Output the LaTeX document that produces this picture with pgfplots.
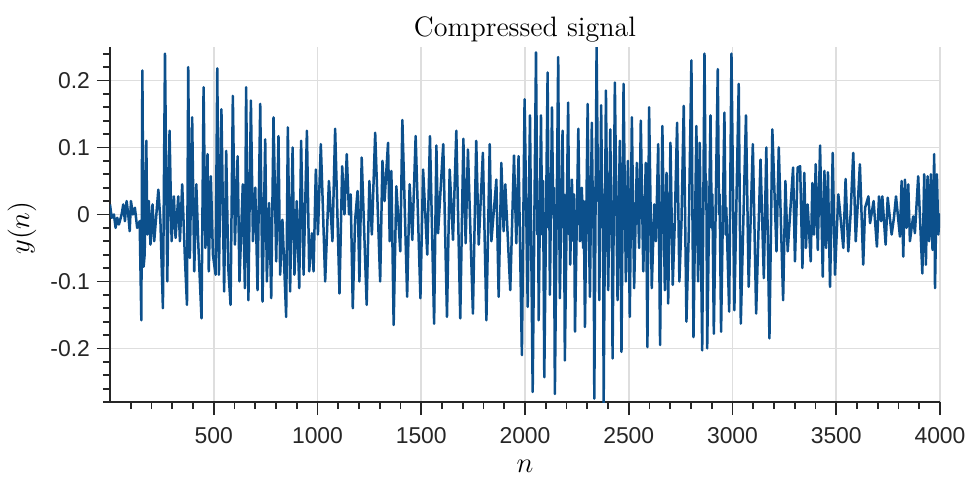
\documentclass[border=0pt]{standalone}
\usepackage{pgfplots}
\pgfplotsset{compat=1.18}
\usepackage{fontspec}
\newfontfamily\arial{Liberation Sans}
\definecolor{lineblue}{RGB}{12,80,140}
\definecolor{axgray}{RGB}{38,38,38}
\definecolor{gridgray}{RGB}{222,222,222}
\begin{document}
\begin{tikzpicture}
\useasboundingbox (-55bp,-38.5bp) rectangle (429bp,201bp);
\begin{axis}[
 at={(0,0)}, anchor=south west,
 scale only axis, width=415bp, height=177.5bp,
 xmin=0, xmax=4000, ymin=-0.28, ymax=0.25,
 axis x line*=bottom, axis y line*=left,
 axis line style={axgray, line width=0.9bp},
 tick align=outside,
 major tick length=6.5bp, minor tick length=3.5bp,
 every tick/.style={axgray, line width=0.9bp},
 xtick={500,1000,1500,2000,2500,3000,3500,4000},
 xticklabels={500,1000,1500,2000,2500,3000,3500,4000},
 minor xtick={100,200,...,3900},
 ytick={-0.2,-0.1,0,0.1,0.2},
 yticklabels={-0.2,-0.1,0,0.1,0.2},
 minor ytick={-0.28,-0.26,-0.24,-0.22,-0.18,-0.16,-0.14,-0.12,-0.08,-0.06,-0.04,-0.02,0.02,0.04,0.06,0.08,0.12,0.14,0.16,0.18,0.22,0.24},
 grid=major, major grid style={gridgray, line width=0.8bp},
 ticklabel style={font=\arial\fontsize{11.5}{13}\selectfont, text=axgray},
 xticklabel style={yshift=-5bp, inner sep=1pt},
 title={Compressed signal},
 title style={font=\fontsize{14.1}{16}\selectfont, at={(axis description cs:0.5,1)}, anchor=base, yshift=-0.5bp},
 xlabel={$n$}, ylabel={$y(n)$},
 xlabel style={font=\fontsize{13.7}{16}\selectfont, at={(axis description cs:0.5,0)}, anchor=base, yshift=-35bp, inner sep=0pt},
 ylabel style={font=\fontsize{13.7}{16}\selectfont, at={(axis description cs:-0.106,0.49)}, anchor=center},
]
\addplot[lineblue, line width=1.25bp, line join=round] coordinates {
(0,0.015)(8,-0.005)(19,0.0)(27,-0.02)(35,-0.005)(43,-0.015)(56,0.0)(64,0.015)(72,-0.01)(80,0.02)(88,0.0)(95,-0.025)(101,0.02)(110,0.0)(120,0.01)(131,-0.02)(143,-0.01)(151,-0.158)(156,0.215)(162,-0.078)(167,-0.06)(175,0.11)(180,-0.03)(187,0.02)(195,-0.045)(205,0.015)(213,-0.04)(233,0.037)(243,-0.01)(255,-0.14)(265,0.24)(276,-0.1)(287,0.125)(297,-0.04)(308,0.027)(316,-0.035)(329,0.027)(337,-0.04)(348,0.045)(361,-0.065)(371,-0.135)(377,0.22)(385,-0.065)(396,0.145)(406,-0.085)(416,0.045)(425,-0.04)(441,-0.155)(451,0.19)(460,-0.05)(470,0.09)(476,-0.085)(486,0.057)(496,-0.06)(509,-0.09)(517,0.218)(525,-0.09)(537,0.157)(550,-0.115)(560,0.095)(570,-0.08)(581,-0.135)(592,0.177)(602,-0.045)(615,0.087)(624,-0.1)(640,0.045)(650,-0.11)(656,0.19)(667,-0.128)
(679,0.17)(689,-0.04)(700,0.04)(711,-0.113)(724,0.165)(735,-0.13)(748,0.112)(756,-0.1)(767,0.017)(777,-0.125)(788,0.145)(801,-0.07)(812,0.117)(820,-0.09)(831,-0.008)(849,-0.153)(857,0.13)(868,-0.115)(880,0.1)(889,-0.09)(900,0.02)(912,-0.11)(921,0.11)(933,-0.09)(949,0.125)(960,-0.085)(973,-0.028)(981,-0.085)(992,0.067)(1002,-0.03)(1016,0.105)(1026,0.01)(1037,-0.1)(1055,0.05)(1072,-0.04)(1085,0.128)(1106,-0.118)(1119,0.072)(1130,0.0)(1141,0.09)(1152,0.0)(1160,0.03)(1170,-0.14)(1181,-0.01)(1193,0.035)(1202,-0.1)(1213,0.085)(1237,-0.135)(1250,0.05)(1262,-0.03)(1278,0.122)(1302,-0.1)(1313,0.08)(1323,0.02)
(1340,0.107)(1348,-0.04)(1356,0.065)(1367,-0.165)(1380,0.042)(1399,-0.055)(1409,0.141)(1432,-0.123)(1444,0.045)(1457,-0.038)(1473,0.117)(1496,-0.125)(1509,0.067)(1529,-0.06)(1542,0.117)(1562,-0.163)(1573,0.103)(1581,-0.028)(1606,0.105)(1624,-0.153)(1637,0.067)(1653,-0.038)(1669,0.125)(1688,-0.155)(1703,0.113)(1714,-0.043)(1725,0.097)(1749,-0.148)(1765,0.11)(1777,-0.045)(1797,0.092)(1814,-0.158)(1830,0.105)(1838,-0.04)(1862,0.052)(1873,-0.123)(1886,0.077)(1897,-0.025)(1905,0.045)(1929,-0.113)(1947,0.088)(1958,-0.043)(1969,0.087)(1985,-0.21)
(1998,0.172)(2013,-0.138)(2024,0.148)(2037,-0.265)(2053,0.242)(2060,-0.03)(2063,0.02)(2066,-0.158)(2077,0.148)(2083,-0.03)(2087,0.05)(2093,-0.243)(2109,0.212)(2114,-0.02)(2117,0.03)(2120,-0.12)(2130,0.16)(2136,0.0)(2139,0.04)(2144,-0.268)(2160,0.235)(2165,0.0)(2168,-0.125)(2181,0.125)(2186,-0.02)(2188,0.03)(2192,-0.218)(2208,0.167)(2213,-0.03)(2215,0.02)(2218,-0.075)(2226,0.052)(2233,-0.04)(2236,0.03)(2241,-0.175)(2257,0.128)(2265,-0.04)(2274,0.04)(2280,-0.05)(2283,0.02)(2289,-0.168)(2302,0.165)(2307,0.0)(2313,-0.123)(2322,0.137)(2328,-0.02)(2330,0.04)(2334,-0.275)(2345,0.25)(2352,0.02)(2355,0.05)(2358,-0.128)(2367,0.163)(2373,-0.02)(2376,0.03)(2379,-0.283)(2390,0.185)(2396,0.0)(2401,-0.113)(2411,0.127)(2416,-0.03)(2418,0.02)(2422,-0.215)(2433,0.197)(2446,-0.128)(2457,0.11)(2465,-0.205)(2475,0.195)(2486,-0.1)(2496,0.08)(2505,-0.153)(2515,0.145)(2526,-0.11)(2539,0.077)(2550,-0.05)(2558,0.14)(2570,-0.085)(2582,0.077)(2590,-0.198)(2598,0.16)(2611,-0.11)(2623,0.015)(2631,-0.04)(2642,0.105)(2651,-0.195)
(2662,0.132)(2674,-0.113)(2682,0.062)(2690,-0.133)(2701,0.107)(2712,-0.105)(2722,-0.01)(2733,0.137)(2744,-0.1)(2754,-0.013)(2765,0.162)(2778,-0.16)(2789,-0.03)(2802,0.23)(2807,0.0)(2812,-0.183)(2826,0.132)(2834,-0.1)(2842,0.107)(2854,-0.203)(2865,0.24)(2871,0.02)(2874,0.05)(2878,-0.2)(2894,0.148)(2900,-0.02)(2903,0.03)(2910,-0.178)(2929,0.217)(2935,0.0)(2938,0.03)(2945,-0.175)(2961,0.152)(2967,-0.03)(2970,0.01)(2984,-0.145)(2995,0.24)(3009,-0.143)(3030,0.195)(3040,-0.163)(3065,0.148)(3078,-0.108)(3098,0.105)(3114,-0.148)(3135,0.082)(3151,-0.095)(3163,0.1)(3178,-0.185)(3192,0.127)(3212,-0.055)(3223,0.1)(3244,-0.128)(3255,0.05)(3266,-0.055)(3292,0.07)(3301,-0.07)(3314,0.07)
(3326,0.072)(3337,-0.08)(3346,0.062)(3354,-0.05)(3362,0.015)(3377,-0.07)(3385,0.047)(3393,-0.03)(3401,0.075)(3411,-0.053)(3422,0.103)(3435,-0.093)(3443,0.065)(3451,-0.05)(3460,0.063)(3470,-0.108)(3483,0.092)(3494,-0.09)(3510,0.03)(3518,0.005)(3534,-0.05)(3545,0.053)(3558,-0.055)(3569,0.0)(3582,0.092)(3594,-0.04)(3614,0.075)(3630,-0.075)(3639,0.01)(3655,0.027)(3663,-0.013)(3680,0.02)(3696,-0.048)(3706,0.027)(3716,-0.01)(3722,0.027)(3738,-0.045)(3748,0.025)(3767,-0.03)(3778,-0.005)(3788,0.027)(3807,-0.033)(3815,0.05)(3823,-0.063)(3831,0.052)(3839,-0.02)(3847,0.045)(3855,-0.04)(3863,-0.02)(3871,-0.003)(3879,-0.028)(3895,0.057)(3915,-0.088)(3924,0.06)(3932,-0.075)(3940,0.057)(3948,-0.04)(3956,0.06)(3964,-0.053)(3972,0.09)(3976,-0.11)(3985,0.06)(3992,-0.03)(3998,0.0)(4000,-0.02)
};
\end{axis}
\end{tikzpicture}
\end{document}
